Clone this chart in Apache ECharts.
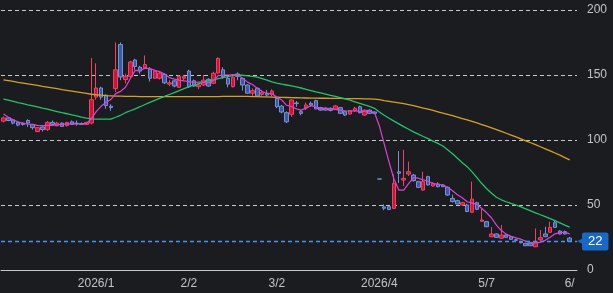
<!DOCTYPE html>
<html><head><meta charset="utf-8">
<script src="https://cdn.jsdelivr.net/npm/echarts/dist/echarts.min.js"></script>
<style>html,body{margin:0;padding:0;background:#1b1c20;}#c{width:613px;height:293px;}</style>
</head><body><div id="c"></div>
<script>
const dates = [
'2025/12/4','2025/12/5','2025/12/8','2025/12/9','2025/12/10','2025/12/11','2025/12/12','2025/12/15','2025/12/16','2025/12/17','2025/12/18','2025/12/19','2025/12/22','2025/12/23','2025/12/24','2025/12/25','2025/12/26','2025/12/29','2025/12/30',
'2026/1/5','2026/1/6','2026/1/7','2026/1/8','2026/1/9','2026/1/13','2026/1/14','2026/1/15','2026/1/16','2026/1/19','2026/1/20','2026/1/21','2026/1/22','2026/1/23','2026/1/26','2026/1/27','2026/1/28','2026/1/29','2026/1/30',
'2026/2/2','2026/2/3','2026/2/4','2026/2/5','2026/2/6','2026/2/9','2026/2/10','2026/2/12','2026/2/13','2026/2/16','2026/2/17','2026/2/18','2026/2/19','2026/2/20','2026/2/24','2026/2/25','2026/2/26','2026/2/27',
'2026/3/2','2026/3/3','2026/3/4','2026/3/5','2026/3/6','2026/3/9','2026/3/10','2026/3/11','2026/3/12','2026/3/13','2026/3/16','2026/3/17','2026/3/18','2026/3/19','2026/3/23','2026/3/24','2026/3/25','2026/3/26','2026/3/27','2026/3/30','2026/3/31',
'2026/4/1','2026/4/2','2026/4/3','2026/4/6','2026/4/7','2026/4/8','2026/4/9','2026/4/10','2026/4/13','2026/4/14','2026/4/15','2026/4/16','2026/4/17','2026/4/20','2026/4/21','2026/4/22','2026/4/23','2026/4/24','2026/4/27','2026/4/28','2026/4/30',
'2026/5/1','2026/5/7','2026/5/8','2026/5/11','2026/5/12','2026/5/13','2026/5/14','2026/5/15','2026/5/18','2026/5/19','2026/5/20','2026/5/21','2026/5/22','2026/5/25','2026/5/26','2026/5/27','2026/5/28','2026/5/29',
'2026/6/1','2026/6/2'];

const opens = [114.5,117,115.5,113.5,113,115,112,106.5,110,108,
113.5,111,113,111,114,113,112.7,112,113,133,
140,134.5,126,139.5,173.5,146.5,149,161.5,156,155.6,
154.5,147.5,147.5,150.5,143,145.5,140.5,147.5,153,145.5,
141,142.3,146.7,143.6,151.5,154,147.5,141,150.8,147.4,
142.3,136,139.7,135.1,135.9,135.1,132,126,121,119.8,
128.5,121.8,124.9,128.2,130.3,124.9,124.4,124.4,123.6,124.9,
121.8,120,122.6,125.6,119.2,123,121.5,70,48.5,48.7,
47.4,75.5,69.2,73.8,73,68,61.5,71.8,64.6,66.2,
65.4,63.6,55.1,53.3,50,50,44.4,51.8,37.5,37.2,
25.6,27.7,24.4,26.9,25.6,23.3,21.8,20.5,20.5,17.9,
23.1,27.7,29,36.4,30,29.5,24.5];
const closes = [117,115,113,111.5,112,113,109.5,109.5,108,113.5,
112,113,110.5,113.5,112,112.5,112,113.5,131,140,
133,126.5,125,154,148.5,149,160,156.5,153,158,
147.5,153,151.5,144,144,141.5,149,149,141,141.5,
142.3,146,141.5,151.3,162.8,148.7,143,148.2,149,142.3,
136,138,133.8,136.4,134.6,137.7,125.6,121.5,114,130.8,
128,120.5,126.9,126.9,124,123,123,122.8,126.2,120.5,
119.2,122.6,124.4,121,123,120.5,120.5,70,47.5,46.5,
66.7,74.4,70.5,75.6,68.7,63.6,68,65.4,66.7,64.1,
64.1,57.7,52.6,50.8,51.8,45,54.5,46.7,38.5,33.3,
27.7,25.1,26.9,25.1,23.6,22.8,21,18.7,18.7,21.8,
24.9,25.6,32.8,32.8,27.7,27.7,22];
const lows = [113.5,114.5,112,110.5,111,110,108,106,106.5,107,
111,110.5,110,110.5,111.5,111,111.5,111.5,112,131,
131,124,122.5,137,146,143.5,147,154,151,155,
145,147,146.5,143,141.5,140.5,140,146,140,141,
139,141.5,141,143,151,147,140.5,140.5,146,138,
135.5,133.8,133,133.5,133.8,133.5,124.5,120.5,113,117.9,
125.6,119,123,125.5,123.5,122.5,122.5,122,123,120,
118.5,119.5,121.5,120.5,118.5,120,120,70,46,46.2,
47,67,64.6,72.3,68,63,61,65,64,63.5,
63.8,57,52,50.5,49.5,44.5,44,46,37,33,
25.3,24.8,24,24.8,23.3,22,20.5,18.4,18.4,17.6,
22.8,25.3,28.7,32.4,27.4,27.3,21.8];
const highs = [118,117.5,116,114.5,113.5,116,112.5,110,110.5,114.5,
115,114,113.5,114,115,115,113.5,114,163,159,
141,135,127.5,175,175,151,161,162.5,157,165,
156,154,152.5,151.5,146,146,150,150,154,146.5,
143.6,150,147.5,152.5,163.5,156,148.5,149,152,148,
143,139.7,140.5,138.5,138.5,139,133,127,122,131.3,
130,123,128.7,129.5,131,125.5,125,125,127,125.5,
122.5,123,125.5,126.5,123.5,123.5,122,70,50.5,48.7,
73.5,91.5,92.5,83.3,74,68.5,75.6,72.5,67.5,67.5,
66,64,58,54,52.5,51,68,52.5,47,37.8,
33,28.2,34.6,27.5,26,24,22.5,21,21.5,32,
30.8,33.3,37.2,38.5,30.5,30.3,25.5];

const ma5 = [120,117.5,115.5,114,112.8,112.3,111.8,111.3,111,111.2,
111.3,111.6,112,112.5,112.4,112.3,112.4,112.8,116.3,121.8,
125.9,128.8,131.1,135.7,137.4,140.6,147.3,153.6,153.4,155.3,
155,153.6,152.6,150.8,148,146.8,146,145.5,144.9,144.4,
144.6,144.5,144,145.5,149.5,150,150,150.3,150,147.5,
144.5,142.7,139.8,137.3,135.8,135.5,133,130.8,126.7,125.8,
124,123,124.5,126.6,125.3,124.3,124.5,123.7,123.6,123,
122.3,122.3,122.6,121.8,122.2,122.3,121.2,111,97,83,
70,61.5,61.5,66.5,71,70.6,69.3,68.3,66.5,65.8,
65.4,63.6,61,57.9,55.6,52.5,51.5,50.5,47.3,44,
40,34.5,30.3,27.6,25.9,24.7,23.7,22.2,21,20.8,
21.3,22.8,25.2,27.8,28.8,29,27.8];
const ma25 = [131.5,130.6,129.7,128.8,128,127.1,126.3,125.4,124.5,123.7,
122.8,121.9,121,120.2,119.3,118.5,117.6,116.8,116.2,116,
116,116,116.1,117.5,119,121,122.5,124,125.6,127.3,
129,130.5,132,133.5,135,136.5,138,139.5,141,142.2,
143.3,144.4,145.4,146.3,147.2,148,148.8,149.5,150,149.8,
149.4,149,148.3,147.2,146,144.8,143.8,143,142.3,141.6,
140.8,140,139,138,137,136.2,135.3,134.4,133.5,132.6,
131.6,130.6,129.4,128.2,127,125.8,124.4,121.5,119,116.7,
114.5,112.4,110.3,108.3,106.3,104.5,102.7,101,99.2,97.4,
95.4,92.5,89.5,86,82.5,79.5,75.5,71,66.5,62.5,
59,56,54,52.5,51.2,50,48.5,47,45.5,44,
42.5,41,39.5,38,36.3,34.5,33];
const ma75 = [146.3,145.7,145.1,144.4,143.8,143.2,142.6,142,141.3,140.7,
140.1,139.5,138.8,138.2,137.6,137,136.4,135.8,135.2,134.8,
134.5,134.2,134,133.8,133.7,133.6,133.5,133.5,133.4,133.4,
133.4,133.4,133.4,133.4,133.4,133.4,133.4,133.4,133.4,133.4,
133.4,133.4,133.4,133.4,133.4,133.5,133.5,133.5,133.5,133.5,
133.5,133.4,133.3,133.2,133.1,133,132.9,132.8,132.7,132.6,
132.5,132.4,132.3,132.2,132.2,132.1,132.1,132,132,132,
131.9,131.9,131.8,131.8,131.7,131.6,131.5,131,130.3,129.7,
129.1,128.5,127.9,127.2,126.4,125.5,124.6,123.7,122.7,121.7,
120.7,119.7,118.7,117.6,116.5,115.4,114.3,113.1,111.9,110.6,
109.3,108,106.6,105.2,103.8,102.4,100.9,99.4,97.9,96.4,
94.8,93.2,91.6,90,88.3,86.5,84.7];

const tickDates = ['2026/1/5','2026/2/2','2026/3/2','2026/4/1','2026/5/7','2026/6/1'];
const tickLabels = ['2026/1','2/2','3/2','2026/4','5/7','6/'];
const lastPrice = 22;

const ohlc = opens.map((o, i) => [o, closes[i], lows[i], highs[i]]);
const chart = echarts.init(document.getElementById('c'), null, {renderer: 'canvas'});
chart.setOption({
  animation: false,
  backgroundColor: '#1b1c20',
  grid: {left: 1, right: 36, top: 10, bottom: 23},
  xAxis: {
    type: 'category', data: dates, boundaryGap: true,
    axisLine: {lineStyle: {color: '#c4c4c4', width: 1}},
    axisTick: {show: false},
    splitLine: {show: false},
    axisLabel: {
      color: '#c4c4c4', fontSize: 12, fontFamily: 'Arial', margin: 8,
      interval: (idx, val) => tickDates.indexOf(val) >= 0,
      formatter: (val) => { const j = tickDates.indexOf(val); return j >= 0 ? tickLabels[j] : ''; }
    }
  },
  yAxis: {
    type: 'value', position: 'right', min: 0, max: 200, interval: 50,
    axisLine: {show: false}, axisTick: {show: false},
    axisLabel: {color: '#c4c4c4', fontSize: 12, fontFamily: 'Arial', margin: 10},
    splitLine: {lineStyle: {color: '#c8c8c8', type: [4, 3], width: 1}}
  },
  series: [
    {
      type: 'candlestick', data: ohlc, barWidth: 4,
      itemStyle: {color: '#c8143f', color0: '#3a5aa5', borderColor: '#f0425f', borderColor0: '#7492d8', borderWidth: 1},
      markLine: {
        silent: true, symbol: ['none', 'none'],
        data: [{yAxis: lastPrice}],
        lineStyle: {color: '#3d95ff', type: [4, 3], width: 1.3, opacity: 1},
        label: {
          position: 'end', distance: 0,
          formatter: '{t|◀}{v|' + lastPrice + '}',
          rich: {
            t: {color: '#1769c8', fontSize: 11, padding: [0, -3, 0, 0]},
            v: {backgroundColor: '#1769c8', color: '#ffffff', fontSize: 13, fontFamily: 'Arial', padding: [3, 6, 2, 6], borderRadius: 2}
          }
        }
      }
    },
    {type: 'line', data: ma75, symbol: 'none', lineStyle: {color: '#d6a21c', width: 1.3}, z: 3},
    {type: 'line', data: ma25, symbol: 'none', lineStyle: {color: '#21c46c', width: 1.3}, z: 3},
    {type: 'line', data: ma5, symbol: 'none', lineStyle: {color: '#e040d8', width: 1.2}, z: 4}
  ]
});
</script></body></html>
